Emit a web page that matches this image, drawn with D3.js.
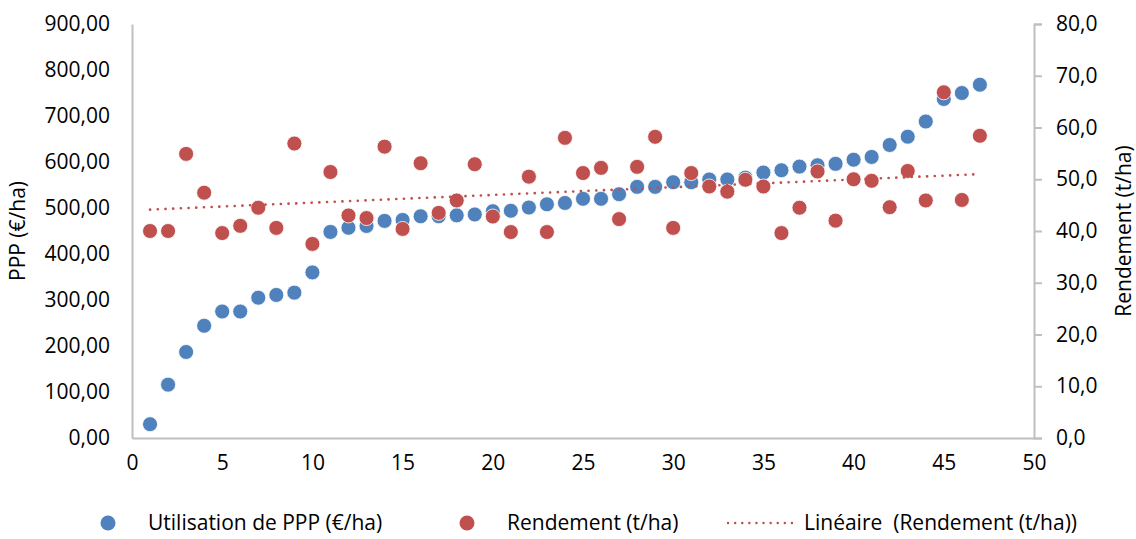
<!DOCTYPE html>
<html>

<head>
    <title>PPP et rendement</title>
    <meta charset="utf-8">
    <script src="https://cdn.jsdelivr.net/npm/d3@7"></script>
    <style>
        body { margin: 0; background: #fff; }
        text { font-family: "Open Sans", sans-serif; fill: #000; }
    </style>
</head>

<body>
    <svg width="1136" height="539"></svg>
</body>
<script>
    // exploitations 1..47
    var exploitations = d3.range(1, 48);
    var ppp = [30, 116, 187, 244, 275, 275, 305, 311, 316, 360,
        448, 457, 461, 472, 474, 482, 482, 484, 486, 493,
        494, 501, 508, 511, 520, 520, 530, 546, 546, 556,
        556, 562, 562, 566, 577, 582, 590, 593, 596, 605,
        611, 637, 655, 688, 737, 750, 768];
    var rendement = [40.0, 40.0, 54.9, 47.4, 39.6, 41.0, 44.5, 40.6, 56.9, 37.5,
        51.4, 43.0, 42.5, 56.3, 40.4, 53.1, 43.5, 45.9, 52.9, 42.8,
        39.8, 50.5, 39.8, 58.0, 51.2, 52.2, 42.3, 52.4, 58.2, 40.6,
        51.2, 48.6, 47.6, 49.9, 48.6, 39.6, 44.5, 51.5, 42.0, 50.0,
        49.7, 44.6, 51.6, 45.9, 66.8, 46.0, 58.4];
    var xTicks = [0, 5, 10, 15, 20, 25, 30, 35, 40, 45, 50];
    var yLeftTicks = [0, 100, 200, 300, 400, 500, 600, 700, 800, 900];
    var yRightTicks = [0, 10, 20, 30, 40, 50, 60, 70, 80];

    var blue = "#4F81BD", red = "#C0504D", axisCol = "#BFBFBF";

    var svg = d3.select("svg");
    var mLeft = 132, mRight = 1034, mTop = 24, mBottom = 438;

    var x = d3.scaleLinear().domain([0, 50]).range([mLeft, mRight]);
    var yL = d3.scaleLinear().domain([0, 900]).range([mBottom, mTop]);
    var yR = d3.scaleLinear().domain([0, 80]).range([mBottom, mTop]);

    var fmt2 = function (d) { return d3.format(".2f")(d).replace(".", ","); };
    var fmt1 = function (d) { return d3.format(".1f")(d).replace(".", ","); };

    // axes
    var gx = svg.append("g").attr("transform", "translate(0," + mBottom + ")")
        .call(d3.axisBottom(x).tickValues(xTicks).tickSize(0).tickPadding(17));
    var gl = svg.append("g").attr("transform", "translate(" + mLeft + ",0)")
        .call(d3.axisLeft(yL).tickValues(yLeftTicks).tickFormat(fmt2).tickSize(0).tickPadding(22));
    var gr = svg.append("g").attr("transform", "translate(" + mRight + ",0)")
        .call(d3.axisRight(yR).tickValues(yRightTicks).tickFormat(fmt1).tickSize(8).tickPadding(14));

    [gx, gl, gr].forEach(function (g) {
        g.select(".domain").attr("stroke", axisCol).attr("stroke-width", 2);
        g.selectAll(".tick line").attr("stroke", axisCol).attr("stroke-width", 2);
        g.selectAll(".tick text").attr("font-size", 21).attr("font-family", "Open Sans").attr("fill", "#000");
    });

    // axis titles
    svg.append("text").attr("transform", "translate(25," + ((mTop + mBottom) / 2) + ") rotate(-90)")
        .attr("text-anchor", "middle").attr("font-size", 21).text("PPP (€/ha)");
    svg.append("text").attr("transform", "translate(1131," + ((mTop + mBottom) / 2) + ") rotate(-90)")
        .attr("text-anchor", "middle").attr("font-size", 21).text("Rendement (t/ha)");

    // trend line (least squares on rendement)
    var mx = d3.mean(exploitations), my = d3.mean(rendement);
    var slope = d3.sum(exploitations, function (d, i) { return (d - mx) * (rendement[i] - my); }) /
        d3.sum(exploitations, function (d) { return (d - mx) * (d - mx); });
    var icpt = my - slope * mx;

    // points
    svg.append("g").selectAll("circle")
        .data(exploitations).enter().append("circle")
        .attr("cx", function (d) { return x(d); })
        .attr("cy", function (d, i) { return yL(ppp[i]); })
        .attr("r", 7.5)
        .attr("fill", blue).attr("stroke", "#fff").attr("stroke-width", 0.8);

    svg.append("g").selectAll("circle")
        .data(exploitations).enter().append("circle")
        .attr("cx", function (d) { return x(d); })
        .attr("cy", function (d, i) { return yR(rendement[i]); })
        .attr("r", 7.5)
        .attr("fill", red).attr("stroke", "#fff").attr("stroke-width", 0.8);

    var xs = d3.extent(exploitations);
    svg.append("path")
        .datum(xs)
        .attr("d", d3.line().x(function (d) { return x(d); }).y(function (d) { return yR(icpt + slope * d); }))
        .attr("stroke", red).attr("stroke-width", 2.6).attr("fill", "none")
        .attr("stroke-linecap", "round").attr("stroke-dasharray", "0.1,7.6");

    // legend
    var ly = 523;
    var leg = svg.append("g").attr("font-size", 21);
    leg.append("circle").attr("cx", 108).attr("cy", ly).attr("r", 7.5).attr("fill", blue);
    leg.append("text").attr("x", 148).attr("y", ly).attr("dy", "0.35em").text("Utilisation de PPP (€/ha)");
    leg.append("circle").attr("cx", 467).attr("cy", ly).attr("r", 7.5).attr("fill", red);
    leg.append("text").attr("x", 507).attr("y", ly).attr("dy", "0.35em").text("Rendement (t/ha)");
    leg.append("line").attr("x1", 728).attr("x2", 793).attr("y1", ly).attr("y2", ly)
        .attr("stroke", red).attr("stroke-width", 2.4).attr("stroke-linecap", "round")
        .attr("stroke-dasharray", "0.1,7");
    leg.append("text").attr("x", 804).attr("y", ly).attr("dy", "0.35em").attr("xml:space", "preserve")
        .text("Linéaire  (Rendement (t/ha))");
</script>

</html>
